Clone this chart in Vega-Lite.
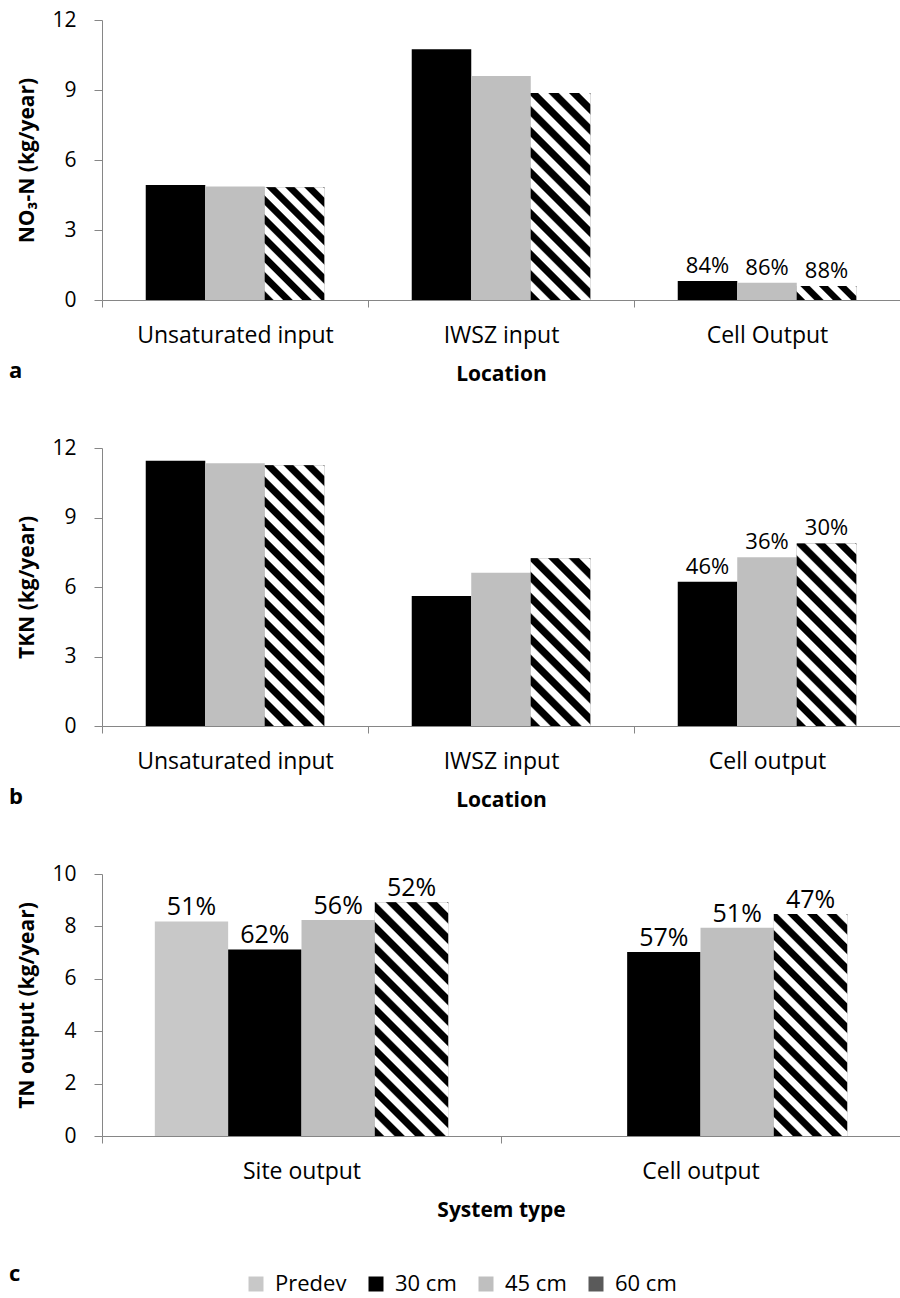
{
"$schema": "https://vega.github.io/schema/vega-lite/v6.json",
"padding": {"left": 9, "top": 9, "right": 0, "bottom": 0},
"background": "white",
"datasets": {
"na": [
{"loc": "Unsaturated input", "depth": "30 cm", "v": 4.93},
{"loc": "Unsaturated input", "depth": "45 cm", "v": 4.86},
{"loc": "Unsaturated input", "depth": "60 cm", "v": 4.83},
{"loc": "IWSZ input", "depth": "30 cm", "v": 10.75},
{"loc": "IWSZ input", "depth": "45 cm", "v": 9.6},
{"loc": "IWSZ input", "depth": "60 cm", "v": 8.87},
{"loc": "Cell Output", "depth": "30 cm", "v": 0.81, "pct": "84%"},
{"loc": "Cell Output", "depth": "45 cm", "v": 0.74, "pct": "86%"},
{"loc": "Cell Output", "depth": "60 cm", "v": 0.6, "pct": "88%"}
],
"nb": [
{"loc": "Unsaturated input", "depth": "30 cm", "v": 11.45},
{"loc": "Unsaturated input", "depth": "45 cm", "v": 11.34},
{"loc": "Unsaturated input", "depth": "60 cm", "v": 11.26},
{"loc": "IWSZ input", "depth": "30 cm", "v": 5.61},
{"loc": "IWSZ input", "depth": "45 cm", "v": 6.62},
{"loc": "IWSZ input", "depth": "60 cm", "v": 7.24},
{"loc": "Cell output", "depth": "30 cm", "v": 6.23, "pct": "46%"},
{"loc": "Cell output", "depth": "45 cm", "v": 7.28, "pct": "36%"},
{"loc": "Cell output", "depth": "60 cm", "v": 7.88, "pct": "30%"}
],
"nc": [
{"loc": "Site output", "depth": "Predev", "v": 8.19, "pct": "51%"},
{"loc": "Site output", "depth": "30 cm", "v": 7.12, "pct": "62%"},
{"loc": "Site output", "depth": "45 cm", "v": 8.24, "pct": "56%"},
{"loc": "Site output", "depth": "60 cm", "v": 8.92, "pct": "52%"},
{"loc": "Cell output", "depth": "30 cm", "v": 7.02, "pct": "57%"},
{"loc": "Cell output", "depth": "45 cm", "v": 7.95, "pct": "51%"},
{"loc": "Cell output", "depth": "60 cm", "v": 8.47, "pct": "47%"}
]
},
"resolve": {"scale": {"xOffset": "independent", "color": "independent"}},
"spacing": 148,
"bounds": "flush",
"vconcat": [
{
"data": {"name": "na"},
"width": 798, "height": 280,
"title": {"text": "a", "orient": "bottom", "anchor": "start", "frame": "group", "dx": -93, "offset": -23, "fontSize": 22, "fontWeight": "bold", "font": "Open Sans", "color": "#000"},
"encoding": {
"x": {"field": "loc", "type": "nominal", "sort": ["Unsaturated input", "IWSZ input", "Cell Output"], "scale": {"paddingInner": 0, "paddingOuter": 0}, "title": "Location"},
"xOffset": {"field": "depth", "type": "nominal", "scale": {"domain": ["30 cm", "45 cm", "60 cm"], "paddingInner": 0, "paddingOuter": 0.735}},
"y": {"field": "v", "type": "quantitative", "scale": {"domain": [0, 12], "nice": false}, "axis": {"values": [0, 3, 6, 9, 12]}, "title": "NO₃-N (kg/year)"}
},
"layer": [
{"mark": {"type": "bar"}, "encoding": {"color": {"field": "depth", "type": "nominal", "scale": {"domain": ["Predev", "30 cm", "45 cm", "60 cm"], "range": ["#c8c8c8", "#000000", "#bfbfbf", "#5a5a5a"]}, "legend": null}}},
{"transform": [{"filter": "datum.loc === 'Unsaturated input' && datum.depth === '60 cm'"}],
 "mark": {"type": "bar", "fill": {"gradient": "linear", "x1": 0, "y1": 1, "x2": 0.6309, "y2": -0.195, "stops": [
{"offset":0,"color":"#000"},{"offset":0.0467,"color":"#000"},{"offset":0.0556,"color":"#fff"},{"offset":0.1022,"color":"#fff"},
{"offset":0.1111,"color":"#000"},{"offset":0.1578,"color":"#000"},{"offset":0.1667,"color":"#fff"},{"offset":0.2133,"color":"#fff"},
{"offset":0.2222,"color":"#000"},{"offset":0.2689,"color":"#000"},{"offset":0.2778,"color":"#fff"},{"offset":0.3244,"color":"#fff"},
{"offset":0.3333,"color":"#000"},{"offset":0.38,"color":"#000"},{"offset":0.3889,"color":"#fff"},{"offset":0.4356,"color":"#fff"},
{"offset":0.4444,"color":"#000"},{"offset":0.4911,"color":"#000"},{"offset":0.5,"color":"#fff"},{"offset":0.5467,"color":"#fff"},
{"offset":0.5556,"color":"#000"},{"offset":0.6022,"color":"#000"},{"offset":0.6111,"color":"#fff"},{"offset":0.6578,"color":"#fff"},
{"offset":0.6667,"color":"#000"},{"offset":0.7133,"color":"#000"},{"offset":0.7222,"color":"#fff"},{"offset":0.7689,"color":"#fff"},
{"offset":0.7778,"color":"#000"},{"offset":0.8244,"color":"#000"},{"offset":0.8333,"color":"#fff"},{"offset":0.88,"color":"#fff"},
{"offset":0.8889,"color":"#000"},{"offset":0.9356,"color":"#000"},{"offset":0.9444,"color":"#fff"},{"offset":0.9911,"color":"#fff"},
{"offset":1,"color":"#000"}]}}},
{"transform": [{"filter": "datum.loc === 'IWSZ input' && datum.depth === '60 cm'"}],
 "mark": {"type": "bar", "fill": {"gradient": "linear", "x1": 0, "y1": 1, "x2": 0.3418, "y2": -0.1892, "stops": [
{"offset":0,"color":"#000"},{"offset":0.0323,"color":"#000"},{"offset":0.0385,"color":"#fff"},{"offset":0.0708,"color":"#fff"},
{"offset":0.0769,"color":"#000"},{"offset":0.1092,"color":"#000"},{"offset":0.1154,"color":"#fff"},{"offset":0.1477,"color":"#fff"},
{"offset":0.1538,"color":"#000"},{"offset":0.1862,"color":"#000"},{"offset":0.1923,"color":"#fff"},{"offset":0.2246,"color":"#fff"},
{"offset":0.2308,"color":"#000"},{"offset":0.2631,"color":"#000"},{"offset":0.2692,"color":"#fff"},{"offset":0.3015,"color":"#fff"},
{"offset":0.3077,"color":"#000"},{"offset":0.34,"color":"#000"},{"offset":0.3462,"color":"#fff"},{"offset":0.3785,"color":"#fff"},
{"offset":0.3846,"color":"#000"},{"offset":0.4169,"color":"#000"},{"offset":0.4231,"color":"#fff"},{"offset":0.4554,"color":"#fff"},
{"offset":0.4615,"color":"#000"},{"offset":0.4938,"color":"#000"},{"offset":0.5,"color":"#fff"},{"offset":0.5323,"color":"#fff"},
{"offset":0.5385,"color":"#000"},{"offset":0.5708,"color":"#000"},{"offset":0.5769,"color":"#fff"},{"offset":0.6092,"color":"#fff"},
{"offset":0.6154,"color":"#000"},{"offset":0.6477,"color":"#000"},{"offset":0.6538,"color":"#fff"},{"offset":0.6862,"color":"#fff"},
{"offset":0.6923,"color":"#000"},{"offset":0.7246,"color":"#000"},{"offset":0.7308,"color":"#fff"},{"offset":0.7631,"color":"#fff"},
{"offset":0.7692,"color":"#000"},{"offset":0.8015,"color":"#000"},{"offset":0.8077,"color":"#fff"},{"offset":0.84,"color":"#fff"},
{"offset":0.8462,"color":"#000"},{"offset":0.8785,"color":"#000"},{"offset":0.8846,"color":"#fff"},{"offset":0.9169,"color":"#fff"},
{"offset":0.9231,"color":"#000"},{"offset":0.9554,"color":"#000"},{"offset":0.9615,"color":"#fff"},{"offset":0.9938,"color":"#fff"},
{"offset":1,"color":"#000"}]}}},
{"transform": [{"filter": "datum.loc === 'Cell Output' && datum.depth === '60 cm'"}],
 "mark": {"type": "bar", "fill": {"gradient": "linear", "x1": 0, "y1": 1, "x2": 1.1706, "y2": 0.7246, "stops": [
{"offset":0,"color":"#000"},{"offset":0.105,"color":"#000"},{"offset":0.125,"color":"#fff"},{"offset":0.23,"color":"#fff"},
{"offset":0.25,"color":"#000"},{"offset":0.355,"color":"#000"},{"offset":0.375,"color":"#fff"},{"offset":0.48,"color":"#fff"},
{"offset":0.5,"color":"#000"},{"offset":0.605,"color":"#000"},{"offset":0.625,"color":"#fff"},{"offset":0.73,"color":"#fff"},
{"offset":0.75,"color":"#000"},{"offset":0.855,"color":"#000"},{"offset":0.875,"color":"#fff"},{"offset":0.98,"color":"#fff"},
{"offset":1,"color":"#000"}]}}},
{"transform": [{"filter": "isValid(datum.pct)"}],
 "mark": {"type": "text", "baseline": "alphabetic", "dy": -8, "font": "Open Sans", "fontSize": 22, "color": "#000"},
 "encoding": {"text": {"field": "pct", "type": "nominal"}}}
]
},
{
"data": {"name": "nb"},
"width": 798, "height": 278,
"title": {"text": "b", "orient": "bottom", "anchor": "start", "frame": "group", "dx": -93, "offset": -23, "fontSize": 22, "fontWeight": "bold", "font": "Open Sans", "color": "#000"},
"encoding": {
"x": {"field": "loc", "type": "nominal", "sort": ["Unsaturated input", "IWSZ input", "Cell output"], "scale": {"paddingInner": 0, "paddingOuter": 0}, "title": "Location"},
"xOffset": {"field": "depth", "type": "nominal", "scale": {"domain": ["30 cm", "45 cm", "60 cm"], "paddingInner": 0, "paddingOuter": 0.735}},
"y": {"field": "v", "type": "quantitative", "scale": {"domain": [0, 12], "nice": false}, "axis": {"values": [0, 3, 6, 9, 12]}, "title": "TKN (kg/year)"}
},
"layer": [
{"mark": {"type": "bar"}, "encoding": {"color": {"field": "depth", "type": "nominal", "scale": {"domain": ["Predev", "30 cm", "45 cm", "60 cm"], "range": ["#c8c8c8", "#000000", "#bfbfbf", "#5a5a5a"]}, "legend": null}}},
{"transform": [{"filter": "datum.loc === 'Unsaturated input' && datum.depth === '60 cm'"}],
 "mark": {"type": "bar", "fill": {"gradient": "linear", "x1": 0, "y1": 1, "x2": 0.2662, "y2": -0.1674, "stops": [
{"offset":0,"color":"#000"},{"offset":0.0263,"color":"#000"},{"offset":0.0313,"color":"#fff"},{"offset":0.0575,"color":"#fff"},
{"offset":0.0625,"color":"#000"},{"offset":0.0888,"color":"#000"},{"offset":0.0938,"color":"#fff"},{"offset":0.12,"color":"#fff"},
{"offset":0.125,"color":"#000"},{"offset":0.1513,"color":"#000"},{"offset":0.1563,"color":"#fff"},{"offset":0.1825,"color":"#fff"},
{"offset":0.1875,"color":"#000"},{"offset":0.2138,"color":"#000"},{"offset":0.2188,"color":"#fff"},{"offset":0.245,"color":"#fff"},
{"offset":0.25,"color":"#000"},{"offset":0.2763,"color":"#000"},{"offset":0.2813,"color":"#fff"},{"offset":0.3075,"color":"#fff"},
{"offset":0.3125,"color":"#000"},{"offset":0.3388,"color":"#000"},{"offset":0.3438,"color":"#fff"},{"offset":0.37,"color":"#fff"},
{"offset":0.375,"color":"#000"},{"offset":0.4013,"color":"#000"},{"offset":0.4063,"color":"#fff"},{"offset":0.4325,"color":"#fff"},
{"offset":0.4375,"color":"#000"},{"offset":0.4638,"color":"#000"},{"offset":0.4688,"color":"#fff"},{"offset":0.495,"color":"#fff"},
{"offset":0.5,"color":"#000"},{"offset":0.5263,"color":"#000"},{"offset":0.5313,"color":"#fff"},{"offset":0.5575,"color":"#fff"},
{"offset":0.5625,"color":"#000"},{"offset":0.5888,"color":"#000"},{"offset":0.5938,"color":"#fff"},{"offset":0.62,"color":"#fff"},
{"offset":0.625,"color":"#000"},{"offset":0.6513,"color":"#000"},{"offset":0.6563,"color":"#fff"},{"offset":0.6825,"color":"#fff"},
{"offset":0.6875,"color":"#000"},{"offset":0.7138,"color":"#000"},{"offset":0.7188,"color":"#fff"},{"offset":0.745,"color":"#fff"},
{"offset":0.75,"color":"#000"},{"offset":0.7763,"color":"#000"},{"offset":0.7813,"color":"#fff"},{"offset":0.8075,"color":"#fff"},
{"offset":0.8125,"color":"#000"},{"offset":0.8388,"color":"#000"},{"offset":0.8438,"color":"#fff"},{"offset":0.87,"color":"#fff"},
{"offset":0.875,"color":"#000"},{"offset":0.9013,"color":"#000"},{"offset":0.9063,"color":"#fff"},{"offset":0.9325,"color":"#fff"},
{"offset":0.9375,"color":"#000"},{"offset":0.9638,"color":"#000"},{"offset":0.9688,"color":"#fff"},{"offset":0.995,"color":"#fff"},
{"offset":1,"color":"#000"}]}}},
{"transform": [{"filter": "datum.loc === 'IWSZ input' && datum.depth === '60 cm'"}],
 "mark": {"type": "bar", "fill": {"gradient": "linear", "x1": 0, "y1": 1, "x2": 0.427, "y2": -0.2034, "stops": [
{"offset":0,"color":"#000"},{"offset":0.0382,"color":"#000"},{"offset":0.0455,"color":"#fff"},{"offset":0.0836,"color":"#fff"},
{"offset":0.0909,"color":"#000"},{"offset":0.1291,"color":"#000"},{"offset":0.1364,"color":"#fff"},{"offset":0.1745,"color":"#fff"},
{"offset":0.1818,"color":"#000"},{"offset":0.22,"color":"#000"},{"offset":0.2273,"color":"#fff"},{"offset":0.2655,"color":"#fff"},
{"offset":0.2727,"color":"#000"},{"offset":0.3109,"color":"#000"},{"offset":0.3182,"color":"#fff"},{"offset":0.3564,"color":"#fff"},
{"offset":0.3636,"color":"#000"},{"offset":0.4018,"color":"#000"},{"offset":0.4091,"color":"#fff"},{"offset":0.4473,"color":"#fff"},
{"offset":0.4545,"color":"#000"},{"offset":0.4927,"color":"#000"},{"offset":0.5,"color":"#fff"},{"offset":0.5382,"color":"#fff"},
{"offset":0.5455,"color":"#000"},{"offset":0.5836,"color":"#000"},{"offset":0.5909,"color":"#fff"},{"offset":0.6291,"color":"#fff"},
{"offset":0.6364,"color":"#000"},{"offset":0.6745,"color":"#000"},{"offset":0.6818,"color":"#fff"},{"offset":0.72,"color":"#fff"},
{"offset":0.7273,"color":"#000"},{"offset":0.7655,"color":"#000"},{"offset":0.7727,"color":"#fff"},{"offset":0.8109,"color":"#fff"},
{"offset":0.8182,"color":"#000"},{"offset":0.8564,"color":"#000"},{"offset":0.8636,"color":"#fff"},{"offset":0.9018,"color":"#fff"},
{"offset":0.9091,"color":"#000"},{"offset":0.9473,"color":"#000"},{"offset":0.9545,"color":"#fff"},{"offset":0.9927,"color":"#fff"},
{"offset":1,"color":"#000"}]}}},
{"transform": [{"filter": "datum.loc === 'Cell output' && datum.depth === '60 cm'"}],
 "mark": {"type": "bar", "fill": {"gradient": "linear", "x1": 0, "y1": 1, "x2": 0.3906, "y2": -0.1986, "stops": [
{"offset":0,"color":"#000"},{"offset":0.035,"color":"#000"},{"offset":0.0417,"color":"#fff"},{"offset":0.0767,"color":"#fff"},
{"offset":0.0833,"color":"#000"},{"offset":0.1183,"color":"#000"},{"offset":0.125,"color":"#fff"},{"offset":0.16,"color":"#fff"},
{"offset":0.1667,"color":"#000"},{"offset":0.2017,"color":"#000"},{"offset":0.2083,"color":"#fff"},{"offset":0.2433,"color":"#fff"},
{"offset":0.25,"color":"#000"},{"offset":0.285,"color":"#000"},{"offset":0.2917,"color":"#fff"},{"offset":0.3267,"color":"#fff"},
{"offset":0.3333,"color":"#000"},{"offset":0.3683,"color":"#000"},{"offset":0.375,"color":"#fff"},{"offset":0.41,"color":"#fff"},
{"offset":0.4167,"color":"#000"},{"offset":0.4517,"color":"#000"},{"offset":0.4583,"color":"#fff"},{"offset":0.4933,"color":"#fff"},
{"offset":0.5,"color":"#000"},{"offset":0.535,"color":"#000"},{"offset":0.5417,"color":"#fff"},{"offset":0.5767,"color":"#fff"},
{"offset":0.5833,"color":"#000"},{"offset":0.6183,"color":"#000"},{"offset":0.625,"color":"#fff"},{"offset":0.66,"color":"#fff"},
{"offset":0.6667,"color":"#000"},{"offset":0.7017,"color":"#000"},{"offset":0.7083,"color":"#fff"},{"offset":0.7433,"color":"#fff"},
{"offset":0.75,"color":"#000"},{"offset":0.785,"color":"#000"},{"offset":0.7917,"color":"#fff"},{"offset":0.8267,"color":"#fff"},
{"offset":0.8333,"color":"#000"},{"offset":0.8683,"color":"#000"},{"offset":0.875,"color":"#fff"},{"offset":0.91,"color":"#fff"},
{"offset":0.9167,"color":"#000"},{"offset":0.9517,"color":"#000"},{"offset":0.9583,"color":"#fff"},{"offset":0.9933,"color":"#fff"},
{"offset":1,"color":"#000"}]}}},
{"transform": [{"filter": "isValid(datum.pct)"}],
 "mark": {"type": "text", "baseline": "alphabetic", "dy": -8, "font": "Open Sans", "fontSize": 22, "color": "#000"},
 "encoding": {"text": {"field": "pct", "type": "nominal"}}}
]
},
{
"data": {"name": "nc"},
"width": 798, "height": 262,
"title": {"text": "c", "orient": "bottom", "anchor": "start", "frame": "group", "dx": -93, "offset": -31, "fontSize": 22, "fontWeight": "bold", "font": "Open Sans", "color": "#000"},
"encoding": {
"x": {"field": "loc", "type": "nominal", "sort": ["Site output", "Cell output"], "scale": {"paddingInner": 0, "paddingOuter": 0}, "title": "System type"},
"xOffset": {"field": "depth", "type": "nominal", "scale": {"domain": ["Predev", "30 cm", "45 cm", "60 cm"], "paddingInner": 0, "paddingOuter": 0.72}},
"y": {"field": "v", "type": "quantitative", "scale": {"domain": [0, 10], "nice": false}, "axis": {"values": [0, 2, 4, 6, 8, 10]}, "title": "TN output (kg/year)"}
},
"layer": [
{"mark": {"type": "bar"}, "encoding": {"color": {"field": "depth", "type": "nominal", "scale": {"domain": ["Predev", "30 cm", "45 cm", "60 cm"], "range": ["#c8c8c8", "#000000", "#bfbfbf", "#5a5a5a"]},
 "legend": {"orient": "none", "direction": "horizontal", "legendX": 143, "legendY": 399, "title": null, "symbolType": "square", "symbolSize": 225, "symbolStrokeWidth": 0, "labelFont": "Open Sans", "labelFontSize": 22, "labelColor": "#000", "labelOffset": 8, "columnPadding": 18}}}},
{"transform": [{"filter": "datum.loc === 'Site output' && datum.depth === '60 cm'"}],
 "mark": {"type": "bar", "fill": {"gradient": "linear", "x1": 0, "y1": 1, "x2": 0.3751, "y2": -0.196, "stops": [
{"offset":0,"color":"#000"},{"offset":0.028,"color":"#000"},{"offset":0.0333,"color":"#fff"},{"offset":0.0613,"color":"#fff"},
{"offset":0.0667,"color":"#000"},{"offset":0.0947,"color":"#000"},{"offset":0.1,"color":"#fff"},{"offset":0.128,"color":"#fff"},
{"offset":0.1333,"color":"#000"},{"offset":0.1613,"color":"#000"},{"offset":0.1667,"color":"#fff"},{"offset":0.1947,"color":"#fff"},
{"offset":0.2,"color":"#000"},{"offset":0.228,"color":"#000"},{"offset":0.2333,"color":"#fff"},{"offset":0.2613,"color":"#fff"},
{"offset":0.2667,"color":"#000"},{"offset":0.2947,"color":"#000"},{"offset":0.3,"color":"#fff"},{"offset":0.328,"color":"#fff"},
{"offset":0.3333,"color":"#000"},{"offset":0.3613,"color":"#000"},{"offset":0.3667,"color":"#fff"},{"offset":0.3947,"color":"#fff"},
{"offset":0.4,"color":"#000"},{"offset":0.428,"color":"#000"},{"offset":0.4333,"color":"#fff"},{"offset":0.4613,"color":"#fff"},
{"offset":0.4667,"color":"#000"},{"offset":0.4947,"color":"#000"},{"offset":0.5,"color":"#fff"},{"offset":0.528,"color":"#fff"},
{"offset":0.5333,"color":"#000"},{"offset":0.5613,"color":"#000"},{"offset":0.5667,"color":"#fff"},{"offset":0.5947,"color":"#fff"},
{"offset":0.6,"color":"#000"},{"offset":0.628,"color":"#000"},{"offset":0.6333,"color":"#fff"},{"offset":0.6613,"color":"#fff"},
{"offset":0.6667,"color":"#000"},{"offset":0.6947,"color":"#000"},{"offset":0.7,"color":"#fff"},{"offset":0.728,"color":"#fff"},
{"offset":0.7333,"color":"#000"},{"offset":0.7613,"color":"#000"},{"offset":0.7667,"color":"#fff"},{"offset":0.7947,"color":"#fff"},
{"offset":0.8,"color":"#000"},{"offset":0.828,"color":"#000"},{"offset":0.8333,"color":"#fff"},{"offset":0.8613,"color":"#fff"},
{"offset":0.8667,"color":"#000"},{"offset":0.8947,"color":"#000"},{"offset":0.9,"color":"#fff"},{"offset":0.928,"color":"#fff"},
{"offset":0.9333,"color":"#000"},{"offset":0.9613,"color":"#000"},{"offset":0.9667,"color":"#fff"},{"offset":0.9947,"color":"#fff"},
{"offset":1,"color":"#000"}]}}},
{"transform": [{"filter": "datum.loc === 'Cell output' && datum.depth === '60 cm'"}],
 "mark": {"type": "bar", "fill": {"gradient": "linear", "x1": 0, "y1": 1, "x2": 0.3962, "y2": -0.1994, "stops": [
{"offset":0,"color":"#000"},{"offset":0.028,"color":"#000"},{"offset":0.0333,"color":"#fff"},{"offset":0.0613,"color":"#fff"},
{"offset":0.0667,"color":"#000"},{"offset":0.0947,"color":"#000"},{"offset":0.1,"color":"#fff"},{"offset":0.128,"color":"#fff"},
{"offset":0.1333,"color":"#000"},{"offset":0.1613,"color":"#000"},{"offset":0.1667,"color":"#fff"},{"offset":0.1947,"color":"#fff"},
{"offset":0.2,"color":"#000"},{"offset":0.228,"color":"#000"},{"offset":0.2333,"color":"#fff"},{"offset":0.2613,"color":"#fff"},
{"offset":0.2667,"color":"#000"},{"offset":0.2947,"color":"#000"},{"offset":0.3,"color":"#fff"},{"offset":0.328,"color":"#fff"},
{"offset":0.3333,"color":"#000"},{"offset":0.3613,"color":"#000"},{"offset":0.3667,"color":"#fff"},{"offset":0.3947,"color":"#fff"},
{"offset":0.4,"color":"#000"},{"offset":0.428,"color":"#000"},{"offset":0.4333,"color":"#fff"},{"offset":0.4613,"color":"#fff"},
{"offset":0.4667,"color":"#000"},{"offset":0.4947,"color":"#000"},{"offset":0.5,"color":"#fff"},{"offset":0.528,"color":"#fff"},
{"offset":0.5333,"color":"#000"},{"offset":0.5613,"color":"#000"},{"offset":0.5667,"color":"#fff"},{"offset":0.5947,"color":"#fff"},
{"offset":0.6,"color":"#000"},{"offset":0.628,"color":"#000"},{"offset":0.6333,"color":"#fff"},{"offset":0.6613,"color":"#fff"},
{"offset":0.6667,"color":"#000"},{"offset":0.6947,"color":"#000"},{"offset":0.7,"color":"#fff"},{"offset":0.728,"color":"#fff"},
{"offset":0.7333,"color":"#000"},{"offset":0.7613,"color":"#000"},{"offset":0.7667,"color":"#fff"},{"offset":0.7947,"color":"#fff"},
{"offset":0.8,"color":"#000"},{"offset":0.828,"color":"#000"},{"offset":0.8333,"color":"#fff"},{"offset":0.8613,"color":"#fff"},
{"offset":0.8667,"color":"#000"},{"offset":0.8947,"color":"#000"},{"offset":0.9,"color":"#fff"},{"offset":0.928,"color":"#fff"},
{"offset":0.9333,"color":"#000"},{"offset":0.9613,"color":"#000"},{"offset":0.9667,"color":"#fff"},{"offset":0.9947,"color":"#fff"},
{"offset":1,"color":"#000"}]}}},
{"transform": [{"filter": "isValid(datum.pct)"}],
 "mark": {"type": "text", "baseline": "alphabetic", "dy": -6, "font": "Open Sans", "fontSize": 25, "color": "#000"},
 "encoding": {"text": {"field": "pct", "type": "nominal"}}}
]
}
],
"config": {
"font": "Open Sans",
"view": {"stroke": null},
"bar": {"stroke": null},
"axis": {"grid": false, "domainColor": "#868686", "tickColor": "#868686", "labelFont": "Open Sans", "labelColor": "#000", "titleFont": "Open Sans", "titleFontSize": 21, "titleFontWeight": "bold", "titleColor": "#000"},
"axisY": {"tickSize": 8, "labelFontSize": 21, "labelPadding": 18, "titlePadding": 14},
"axisX": {"tickSize": 7, "labelFontSize": 23, "labelPadding": 17, "labelAngle": 0, "labelLimit": 0, "tickBand": "extent", "titlePadding": 16}
}
}
